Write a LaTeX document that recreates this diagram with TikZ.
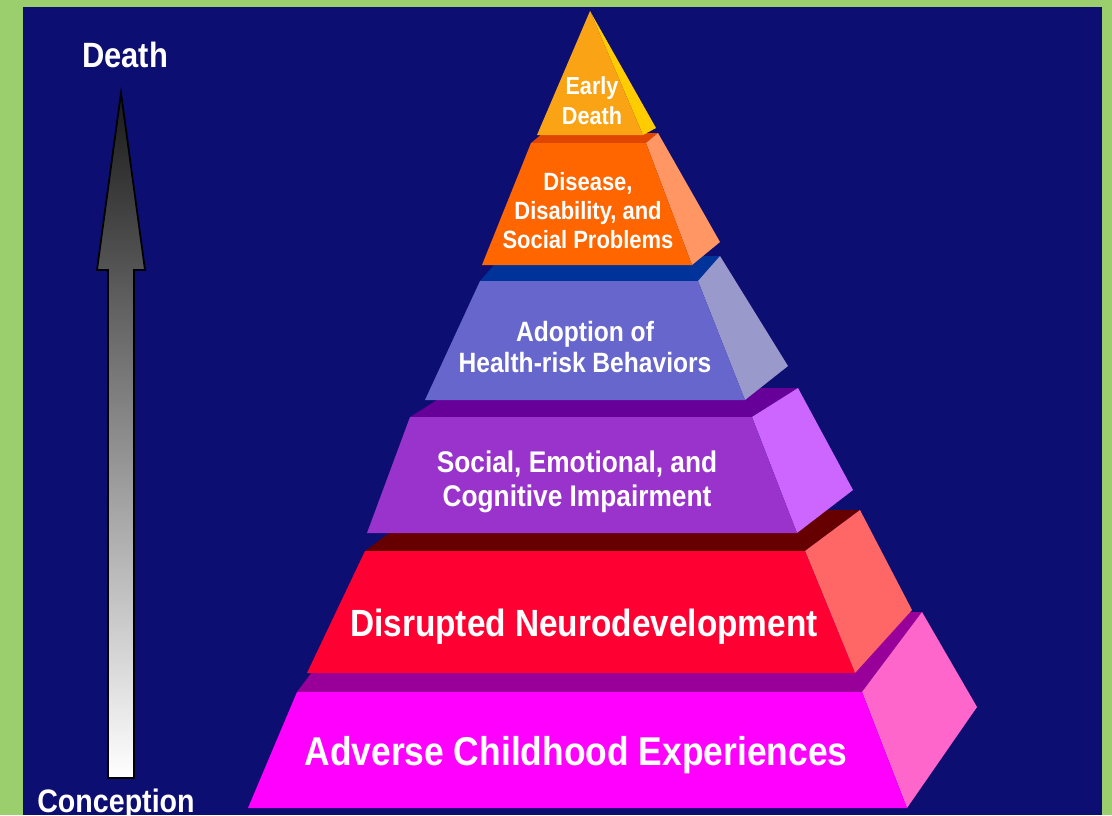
\documentclass[tikz,border=0pt]{standalone}
\usepackage{fontspec}
\setmainfont{Liberation Sans}[FakeStretch=0.88]
\usepackage{tikz}
\definecolor{navy}{RGB}{13,14,114}
\definecolor{leaf}{RGB}{155,207,110}
\definecolor{edfront}{RGB}{250,163,20}
\definecolor{edside}{RGB}{255,204,0}
\definecolor{disfront}{RGB}{255,102,0}
\definecolor{disside}{RGB}{255,150,100}
\definecolor{distop}{RGB}{225,70,0}
\definecolor{hrbfront}{RGB}{102,102,204}
\definecolor{hrbside}{RGB}{153,153,204}
\definecolor{hrbtop}{RGB}{0,51,153}
\definecolor{secfront}{RGB}{153,51,204}
\definecolor{secside}{RGB}{204,102,255}
\definecolor{sectop}{RGB}{102,0,153}
\definecolor{ndfront}{RGB}{255,0,51}
\definecolor{ndside}{RGB}{255,102,102}
\definecolor{ndtop}{RGB}{102,0,0}
\definecolor{acefront}{RGB}{255,0,255}
\definecolor{aceside}{RGB}{255,102,204}
\definecolor{acetop}{RGB}{153,0,153}

\begin{document}
\begin{tikzpicture}[x=0.02cm, y=-0.02cm,
    lbl/.style={text=white, align=center, inner sep=0pt}]
    \useasboundingbox (0,0) rectangle (1112,815);
    \fill[leaf] (0,0) rectangle (1112,815);
    \fill[navy] (23,7) rectangle (1102,815);

    \shadedraw[top color=black!90, bottom color=white, draw=black, line width=1pt]
        (121,93) -- (145,270) -- (134,270) -- (134,778) -- (108,778) -- (108,270) -- (97,270) -- cycle;
    \node[lbl, anchor=base, font=\bfseries\fontsize{20}{24}\selectfont] (D) at (125,67) {Death};
    \node[lbl, anchor=base, font=\bfseries\fontsize{18.5}{22}\selectfont] (C) at (116,812) {Conception};

    \fill[acetop] (297,692) -- (862,692) -- (922,612) -- (357,612) -- cycle;
    \fill[aceside] (862,692) -- (922,612) -- (977,707) -- (907,808) -- cycle;
    \fill[acefront] (297,692) -- (862,692) -- (907,808) -- (248,808) -- cycle;

    \fill[ndtop] (365,551) -- (805,551) -- (860,510) -- (420,510) -- cycle;
    \fill[ndside] (805,551) -- (860,510) -- (912,610) -- (855,673) -- cycle;
    \fill[ndfront] (365,551) -- (805,551) -- (855,673) -- (307,673) -- cycle;

    \fill[sectop] (410,417) -- (752,417) -- (798,388) -- (456,388) -- cycle;
    \fill[secside] (752,417) -- (798,388) -- (853,490) -- (797,533) -- cycle;
    \fill[secfront] (410,417) -- (752,417) -- (797,533) -- (367,533) -- cycle;

    \fill[hrbtop] (480,281) -- (698,281) -- (720,256) -- (502,256) -- cycle;
    \fill[hrbside] (698,281) -- (720,256) -- (788,366) -- (745,400) -- cycle;
    \fill[hrbfront] (480,281) -- (698,281) -- (745,400) -- (425,400) -- cycle;

    \fill[distop] (531,143) -- (646,143) -- (658,133) -- (543,133) -- cycle;
    \fill[disside] (646,143) -- (658,133) -- (720,242) -- (692,265) -- cycle;
    \fill[disfront] (531,143) -- (646,143) -- (692,265) -- (482,265) -- cycle;

    \fill[edside] (590,11) -- (656,128) -- (643,135) -- cycle;
    \fill[edfront] (590,11) -- (643,135) -- (537,135) -- cycle;

    \node[lbl, anchor=base, font=\bfseries\fontsize{22.9}{26}\selectfont] (ACE) at (576,765) {Adverse Childhood Experiences};
    \node[lbl, anchor=base, font=\bfseries\fontsize{21.6}{25}\selectfont] (ND) at (584,636) {Disrupted Neurodevelopment};
    \node[lbl, font=\bfseries\fontsize{17}{19.3}\selectfont] (SEC) at (577,482) {Social, Emotional, and\\Cognitive Impairment};
    \node[lbl, font=\bfseries\fontsize{15.9}{18.2}\selectfont] (HRB) at (585,347) {Adoption of\\Health-risk Behaviors};
    \node[lbl, font=\bfseries\fontsize{14.2}{16.5}\selectfont] (DIS) at (588,211) {Disease,\\Disability, and\\Social Problems};
    \node[lbl, font=\bfseries\fontsize{14}{17}\selectfont] (ED) at (592,101) {Early\\Death};
\end{tikzpicture}
\end{document}
